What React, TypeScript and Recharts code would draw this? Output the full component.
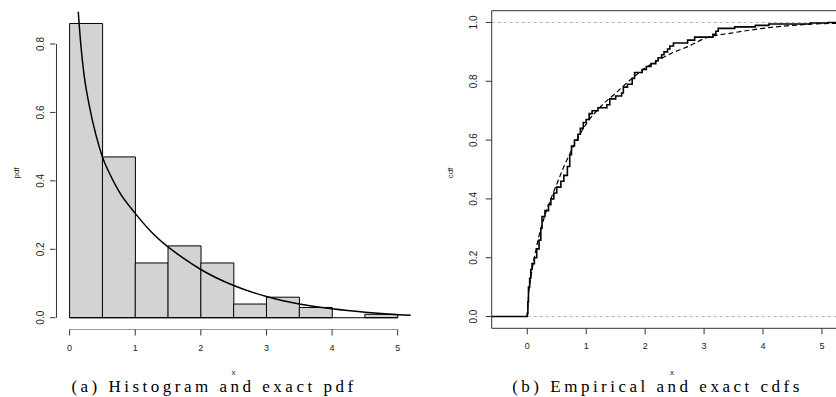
import React from 'react'
import {
  ComposedChart, LineChart, Bar, Line, XAxis, YAxis, ReferenceLine,
} from 'recharts'

// histogram (a)
const binLabels = ['0-0.5', '0.5-1', '1-1.5', '1.5-2', '2-2.5', '2.5-3', '3-3.5', '3.5-4', '4-4.5', '4.5-5']
const binDensity = [0.86, 0.47, 0.16, 0.21, 0.16, 0.04, 0.06, 0.03, 0, 0.01]

// exact pdf
const pdfX = [0.1, 0.13, 0.17, 0.22, 0.3, 0.4, 0.5, 0.6, 0.75, 1, 1.25, 1.5, 1.75, 2, 2.5, 3, 3.5, 4, 4.5, 5, 5.2]
const pdfY = [1.0, 0.9, 0.8, 0.71, 0.62, 0.535, 0.47, 0.425, 0.37, 0.305, 0.25, 0.207, 0.172, 0.141, 0.094, 0.062, 0.04, 0.026, 0.016, 0.009, 0.007]

// empirical cdf (b), step positions and values
const ecdfX = [-0.604, 0, 0.01, 0.02, 0.04, 0.06, 0.08, 0.12, 0.16, 0.2, 0.23, 0.25, 0.3, 0.36, 0.4, 0.45, 0.5, 0.57, 0.62, 0.68, 0.72, 0.75, 0.8, 0.86, 0.9, 0.95, 1.0, 1.05, 1.1, 1.2, 1.35, 1.4, 1.5, 1.6, 1.63, 1.7, 1.78, 1.82, 1.95, 2.02, 2.1, 2.18, 2.22, 2.28, 2.32, 2.38, 2.42, 2.48, 2.72, 2.84, 3.15, 3.2, 3.24, 3.52, 3.87, 4.1, 4.8, 5.1, 5.6]
const ecdfY = [0, 0.01, 0.05, 0.1, 0.13, 0.16, 0.18, 0.2, 0.23, 0.26, 0.3, 0.34, 0.36, 0.38, 0.4, 0.42, 0.44, 0.46, 0.48, 0.51, 0.55, 0.58, 0.6, 0.62, 0.64, 0.66, 0.67, 0.69, 0.7, 0.71, 0.72, 0.74, 0.75, 0.76, 0.78, 0.79, 0.81, 0.83, 0.84, 0.85, 0.86, 0.87, 0.88, 0.89, 0.9, 0.91, 0.92, 0.93, 0.94, 0.95, 0.96, 0.97, 0.98, 0.985, 0.99, 0.995, 0.998, 1.0, 1.0]

// exact cdf
const cdfX = [0, 0.02, 0.05, 0.1, 0.15, 0.2, 0.3, 0.4, 0.5, 0.6, 0.75, 1.0, 1.25, 1.5, 1.75, 2.0, 2.25, 2.5, 2.75, 3.0, 3.5, 4.0, 4.5, 5.0, 5.6]
const cdfY = [0, 0.07, 0.12, 0.18, 0.23, 0.275, 0.345, 0.4, 0.45, 0.5, 0.565, 0.655, 0.715, 0.76, 0.805, 0.845, 0.875, 0.9, 0.92, 0.945, 0.965, 0.98, 0.99, 0.996, 0.998]

const histTicksX = [0, 1, 2, 3, 4, 5]
const histTicksY = [0, 0.2, 0.4, 0.6, 0.8]
const cdfTicksX = [0, 1, 2, 3, 4, 5]
const cdfTicksY = [0, 0.2, 0.4, 0.6, 0.8, 1.0]

const histData = binLabels.map((bin, i) => ({ bin, density: binDensity[i] }))
const pdfData = pdfX.map((x, i) => ({ x, y: pdfY[i] }))
const ecdfData = ecdfX.map((x, i) => ({ x, y: ecdfY[i] }))
const cdfData = cdfX.map((x, i) => ({ x, y: cdfY[i] }))

const SANS = '"Liberation Sans", Arial, Helvetica, sans-serif'
const SERIF = '"Liberation Serif", "Times New Roman", serif'
const AX = '#333'

const L_XDOM = [-0.215, 5.2]
const L_YDOM = [-0.0344, 0.8944]
const R_XDOM = [-0.604, 5.51]
const R_YDOM = [-0.04, 1.04]

// R draws its axis lines only between the first and last tick
// (the vertical one needs its own keys/axis or recharts drops it)
const yAxisLine = [{ ax: -0.2, ay: 0 }, { ax: -0.2, ay: 0.8 }]
const xAxisLine = [{ x: 0, y: L_YDOM[0] }, { x: 5, y: L_YDOM[0] }]

const L_W = 420
const L_M = { top: 11.7, right: 9.2, bottom: 37.5, left: 0 }
const L_YW = 55.5
const L_PLOT_W = L_W - L_M.left - L_M.right - L_YW
const padLeft = (L_PLOT_W * (0 - L_XDOM[0])) / (L_XDOM[1] - L_XDOM[0])
const padRight = (L_PLOT_W * (L_XDOM[1] - 5)) / (L_XDOM[1] - L_XDOM[0])

const XTick = ({ x, y, payload }: any) => (
  <text x={x} y={y + 13} textAnchor="middle" fontSize={9} fontFamily={SANS} fill="#222">
    {payload.value}
  </text>
)

const makeYTick = (dx: number) => ({ x, y, payload }: any) => (
  <text
    x={x + dx}
    y={y}
    transform={`rotate(-90, ${x + dx}, ${y})`}
    textAnchor="middle"
    fontSize={10}
    fontFamily={SANS}
    fill="#222"
  >
    {Number(payload.value).toFixed(1)}
  </text>
)

function HistPanel() {
  return (
    <ComposedChart width={L_W} height={397} data={histData} margin={L_M} barCategoryGap={0} barGap={0}>
      <XAxis xAxisId="bins" dataKey="bin" type="category" hide height={0} padding={{ left: padLeft, right: padRight }} />
      <XAxis
        xAxisId="x" dataKey="x" type="number" domain={L_XDOM} allowDataOverflow
        ticks={histTicksX} height={30} axisLine={false} tickSize={6} tickMargin={2}
        tickLine={{ stroke: AX }} tick={<XTick />}
      />
      <XAxis xAxisId="ax" dataKey="ax" type="number" domain={L_XDOM} allowDataOverflow hide height={0} />
      <YAxis
        dataKey="y" type="number" domain={L_YDOM} allowDataOverflow ticks={histTicksY}
        width={L_YW} axisLine={false} tickSize={5.5} tickMargin={2}
        tickLine={{ stroke: AX }} tick={makeYTick(-4)}
      />
      <Bar
        xAxisId="bins" dataKey="density" fill="#d3d3d3" stroke="#000" strokeWidth={1}
        isAnimationActive={false}
      />
      <ReferenceLine xAxisId="x" segment={[{ x: 0, y: 0 }, { x: 5, y: 0 }]} stroke="#000" strokeWidth={1} />
      <Line
        xAxisId="x" data={pdfData} dataKey="y" type="monotone" stroke="#000" strokeWidth={1.5}
        dot={false} activeDot={false} isAnimationActive={false}
      />
      <Line
        xAxisId="ax" data={yAxisLine} dataKey="ay" stroke={AX} strokeWidth={1}
        dot={false} activeDot={false} isAnimationActive={false}
      />
      <Line
        xAxisId="x" data={xAxisLine} dataKey="y" type="linear" stroke={AX} strokeWidth={1}
        dot={false} activeDot={false} isAnimationActive={false}
      />
    </ComposedChart>
  )
}

function CdfPanel() {
  return (
    <LineChart width={460} height={397} margin={{ top: 10.7, right: 28, bottom: 38.7, left: 0 }}>
      <XAxis
        dataKey="x" type="number" domain={R_XDOM} allowDataOverflow ticks={cdfTicksX}
        height={30} axisLine={{ stroke: AX }} tickSize={6} tickMargin={2}
        tickLine={{ stroke: AX }} tick={<XTick />}
      />
      <YAxis
        dataKey="y" type="number" domain={R_YDOM} allowDataOverflow ticks={cdfTicksY}
        width={71.7} axisLine={{ stroke: AX }} tickSize={6} tickMargin={2}
        tickLine={{ stroke: AX }} tick={makeYTick(-7)}
      />
      <ReferenceLine y={R_YDOM[1]} stroke={AX} ifOverflow="visible" />
      <ReferenceLine y={0} stroke="#b3b3b3" strokeDasharray="3 3" />
      <ReferenceLine y={1} stroke="#b3b3b3" strokeDasharray="3 3" />
      <Line
        data={cdfData} dataKey="y" type="monotone" stroke="#000" strokeWidth={1.2}
        strokeDasharray="5 3" dot={false} activeDot={false} isAnimationActive={false}
      />
      <Line
        data={ecdfData} dataKey="y" type="stepAfter" stroke="#000" strokeWidth={1.6}
        dot={false} activeDot={false} isAnimationActive={false}
      />
    </LineChart>
  )
}

export default function App() {
  const capStyle = { fontFamily: SERIF, fontSize: 17, letterSpacing: 3.5, fill: '#000' }
  return (
    <div style={{ position: 'absolute', left: 0, top: 0, width: 836, height: 397, overflow: 'hidden', background: '#fff' }}>
      <div style={{ position: 'absolute', left: 0, top: 0 }}>
        <HistPanel />
      </div>
      <div style={{ position: 'absolute', left: 420, top: 0 }}>
        <CdfPanel />
      </div>
      <svg width={836} height={397} style={{ position: 'absolute', left: 0, top: 0, pointerEvents: 'none' }}>
        <text x={18.5} y={173} transform="rotate(-90, 18.5, 173)" textAnchor="middle" fontSize={8} fontFamily={SANS} fill="#222">pdf</text>
        <text x={452.5} y={173} transform="rotate(-90, 452.5, 173)" textAnchor="middle" fontSize={8} fontFamily={SANS} fill="#222">cdf</text>
        <text x={233.5} y={374.5} textAnchor="middle" fontSize={8} fontFamily={SANS} fill="#222">x</text>
        <text x={672} y={374.5} textAnchor="middle" fontSize={8} fontFamily={SANS} fill="#222">x</text>
        <text x={214} y={392.3} textAnchor="middle" style={capStyle}>(a) Histogram and exact pdf</text>
        <text x={657.5} y={392.3} textAnchor="middle" style={capStyle}>(b) Empirical and exact cdfs</text>
      </svg>
    </div>
  )
}
